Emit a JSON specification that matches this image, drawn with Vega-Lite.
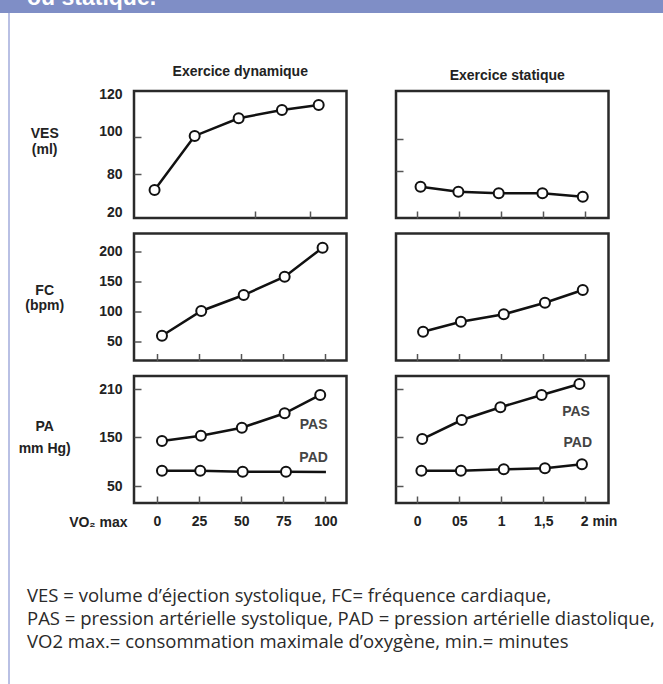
{
  "$schema": "https://vega.github.io/schema/vega-lite/v6.json",
  "background": "white",
  "padding": 0,
  "spacing": 0,
  "config": {
    "font": "Liberation Sans",
    "view": {"stroke": null},
    "axis": {
      "domain": false, "grid": false, "ticks": true, "tickSize": -7, "tickColor": "#555", "tickWidth": 1.5,
      "labelFont": "Liberation Sans", "labelFontSize": 14, "labelFontWeight": "bold", "labelColor": "#222",
      "labelFlush": false, "labelOverlap": false,
      "titleFont": "Liberation Sans", "titleFontSize": 14, "titleFontWeight": "bold", "titleColor": "#222",
      "titleAngle": 0, "titleAlign": "center", "titleBaseline": "alphabetic", "titlePadding": 0
    },
    "axisX": {"labelPadding": 18},
    "axisY": {"labelPadding": 19},
    "title": {"font": "Liberation Sans", "fontSize": 14, "fontWeight": "bold", "color": "#222"}
  },
  "datasets": {
    "none": [],
    "header": [{"t": "ou statique."}],
    "ves_dyn": [{"x": -1.4, "v": 54.7}, {"x": 22.4, "v": 100.5}, {"x": 48.5, "v": 108.7}, {"x": 74.2, "v": 112.6}, {"x": 96.0, "v": 114.9}],
    "ves_stat": [{"x": 0.04, "v": 59.9}, {"x": 0.49, "v": 52.1}, {"x": 0.97, "v": 49.5}, {"x": 1.49, "v": 49.5}, {"x": 1.97, "v": 44.2}],
    "fc_dyn": [{"x": 3.0, "v": 60}, {"x": 26.3, "v": 101.2}, {"x": 51.5, "v": 127.8}, {"x": 75.8, "v": 158.3}, {"x": 98.3, "v": 206.7}],
    "fc_stat": [{"x": 0.07, "v": 66.7}, {"x": 0.52, "v": 83.3}, {"x": 1.03, "v": 95.7}, {"x": 1.52, "v": 115}, {"x": 1.97, "v": 136.2}],
    "pa_dyn": [
      {"s": "PAS", "x": 3.0, "v": 142.4, "m": true}, {"s": "PAS", "x": 26.1, "v": 152, "m": true}, {"s": "PAS", "x": 50.4, "v": 162, "m": true}, {"s": "PAS", "x": 75.8, "v": 180, "m": true}, {"s": "PAS", "x": 96.9, "v": 202.9, "m": true},
      {"s": "PAD", "x": 3.0, "v": 81.4, "m": true}, {"s": "PAD", "x": 25.7, "v": 81.4, "m": true}, {"s": "PAD", "x": 50.9, "v": 79.4, "m": true}, {"s": "PAD", "x": 76.6, "v": 79.4, "m": true}, {"s": "PAD", "x": 100.3, "v": 78.7, "m": false}
    ],
    "pa_stat": [
      {"s": "PAS", "x": 0.06, "v": 146.5, "m": true}, {"s": "PAS", "x": 0.53, "v": 171.6, "m": true}, {"s": "PAS", "x": 0.99, "v": 187.5, "m": true}, {"s": "PAS", "x": 1.48, "v": 202.9, "m": true}, {"s": "PAS", "x": 1.93, "v": 216.6, "m": true},
      {"s": "PAD", "x": 0.05, "v": 81.4, "m": true}, {"s": "PAD", "x": 0.52, "v": 81.4, "m": true}, {"s": "PAD", "x": 1.03, "v": 84.3, "m": true}, {"s": "PAD", "x": 1.52, "v": 86.3, "m": true}, {"s": "PAD", "x": 1.96, "v": 94.6, "m": true}
    ],
    "pa_dyn_lab": [{"x": 93, "v": 165.4, "t": "PAS"}, {"x": 93, "v": 106.9, "t": "PAD"}],
    "pa_stat_lab": [{"x": 1.89, "v": 181.2, "t": "PAS"}, {"x": 1.91, "v": 138.9, "t": "PAD"}],
    "caption": [
      {"line": 1, "text": "VES = volume d’éjection systolique, FC= fréquence cardiaque,"},
      {"line": 2, "text": "PAS = pression artérielle systolique, PAD = pression artérielle diastolique,"},
      {"line": 3, "text": "VO2 max.= consommation maximale d’oxygène, min.= minutes"}
    ]
  },
  "vconcat": [
    {
      "width": 663, "height": 13,
      "view": {"fill": "#7f8ec6", "stroke": null},
      "data": {"name": "header"},
      "mark": {"type": "text", "clip": true, "align": "left", "baseline": "alphabetic", "dx": 27, "dy": -8, "color": "white", "fontSize": 23, "fontWeight": "bold"},
      "encoding": {
        "x": {"datum": 0, "type": "quantitative", "scale": {"domain": [0, 1]}, "axis": null},
        "y": {"datum": 0, "type": "quantitative", "scale": {"domain": [0, 1]}, "axis": null},
        "text": {"field": "t"}
      }
    },
    {
      "spacing": 0,
      "hconcat": [
        {"width": 8, "height": 671, "data": {"name": "none"}, "mark": {"type": "point", "opacity": 0}},
        {"width": 2, "height": 671, "view": {"fill": "#b9c0e4", "stroke": null}, "data": {"name": "none"}, "mark": {"type": "point", "opacity": 0}},
        {"width": 6, "height": 671, "data": {"name": "none"}, "mark": {"type": "point", "opacity": 0}},
        {
          "spacing": 0,
          "vconcat": [
            {"width": 1, "height": 50, "data": {"name": "none"}, "mark": {"type": "point", "opacity": 0}},
            {
              "columns": 2,
              "bounds": "flush",
              "spacing": {"row": 15.5, "column": 49},
              "concat": [
                {
                  "width": 212.5, "height": 127,
                  "view": {"stroke": "#2a2a2a", "strokeWidth": 2.5},
                  "title": {"text": "Exercice dynamique", "frame": "group", "anchor": "middle", "offset": -3, "baseline": "alphabetic"},
                  "data": {"name": "ves_dyn"},
                  "encoding": {
                    "x": {"field": "x", "type": "quantitative", "scale": {"domain": [-13.6, 112.5], "nice": false, "zero": false}, "axis": {"values": [58.4, 90.7], "labels": false, "title": null}},
                    "y": {"field": "v", "type": "quantitative", "scale": {"domain": [10.5, 20, 80, 100, 120, 121.4], "range": [127, 121, 83, 46, 3, 0], "nice": false, "zero": false},
                          "axis": {"values": [20, 80, 100, 120], "tickOpacity": {"condition": {"test": "datum.value == 80 || datum.value == 100", "value": 1}, "value": 0},
                                   "labelOffset": {"condition": {"test": "datum.value == 100", "value": -6}, "value": 0},
                                   "title": ["VES", "(ml)"], "titleAngle": 0, "titleAlign": "center", "titleBaseline": "alphabetic", "titleX": -89.8, "titleY": 46, "titleLineHeight": 16}}
                  },
                  "layer": [
                    {"mark": {"type": "line", "color": "#111", "strokeWidth": 2.5}},
                    {"mark": {"type": "point", "shape": "circle", "filled": true, "fill": "white", "stroke": "#111", "strokeWidth": 2, "size": 100, "opacity": 1}}
                  ]
                },
                {
                  "width": 212.5, "height": 127,
                  "view": {"stroke": "#2a2a2a", "strokeWidth": 2.5},
                  "title": {"text": "Exercice statique", "frame": "group", "anchor": "middle", "offset": -3, "baseline": "alphabetic", "dx": 5},
                  "data": {"name": "ves_stat"},
                  "encoding": {
                    "x": {"field": "x", "type": "quantitative", "scale": {"domain": [-0.252, 2.276], "nice": false, "zero": false}, "axis": {"values": [0, 0.5, 1, 1.5, 2], "labels": false, "title": null}},
                    "y": {"field": "v", "type": "quantitative", "scale": {"domain": [10.5, 20, 80, 100, 120, 121.4], "range": [127, 121, 83, 46, 3, 0], "nice": false, "zero": false},
                          "axis": {"values": [81.6, 98.9], "labels": false, "title": null}}
                  },
                  "layer": [
                    {"mark": {"type": "line", "color": "#111", "strokeWidth": 2.5}},
                    {"mark": {"type": "point", "shape": "circle", "filled": true, "fill": "white", "stroke": "#111", "strokeWidth": 2, "size": 100, "opacity": 1}}
                  ]
                },
                {
                  "width": 212.5, "height": 127,
                  "view": {"stroke": "#2a2a2a", "strokeWidth": 2.5},
                  "data": {"name": "fc_dyn"},
                  "encoding": {
                    "x": {"field": "x", "type": "quantitative", "scale": {"domain": [-13.6, 112.5], "nice": false, "zero": false}, "axis": {"values": [0, 25, 50, 75, 100], "labels": false, "title": null}},
                    "y": {"field": "v", "type": "quantitative", "scale": {"domain": [18.7, 230.3], "nice": false, "zero": false},
                          "axis": {"values": [50, 100, 150, 200], "title": ["FC", "(bpm)"], "titleAngle": 0, "titleAlign": "center", "titleBaseline": "alphabetic", "titleX": -89.8, "titleY": 60.5, "titleLineHeight": 15}}
                  },
                  "layer": [
                    {"mark": {"type": "line", "color": "#111", "strokeWidth": 2.5}},
                    {"mark": {"type": "point", "shape": "circle", "filled": true, "fill": "white", "stroke": "#111", "strokeWidth": 2, "size": 100, "opacity": 1}}
                  ]
                },
                {
                  "width": 212.5, "height": 127,
                  "view": {"stroke": "#2a2a2a", "strokeWidth": 2.5},
                  "data": {"name": "fc_stat"},
                  "encoding": {
                    "x": {"field": "x", "type": "quantitative", "scale": {"domain": [-0.252, 2.276], "nice": false, "zero": false}, "axis": {"values": [0, 0.5, 1, 1.5, 2], "labels": false, "title": null}},
                    "y": {"field": "v", "type": "quantitative", "scale": {"domain": [18.7, 230.3], "nice": false, "zero": false}, "axis": null}
                  },
                  "layer": [
                    {"mark": {"type": "line", "color": "#111", "strokeWidth": 2.5}},
                    {"mark": {"type": "point", "shape": "circle", "filled": true, "fill": "white", "stroke": "#111", "strokeWidth": 2, "size": 100, "opacity": 1}}
                  ]
                },
                {
                  "width": 212.5, "height": 127,
                  "view": {"stroke": "#2a2a2a", "strokeWidth": 2.5},
                  "layer": [
                    {
                      "data": {"name": "pa_dyn"},
                      "mark": {"type": "line", "color": "#111", "strokeWidth": 2.5},
                      "encoding": {
                        "x": {"field": "x", "type": "quantitative", "scale": {"domain": [-13.6, 112.5], "nice": false, "zero": false},
                              "axis": {"values": [0, 25, 50, 75, 100], "title": "VO₂ max", "titleAlign": "right", "titleBaseline": "alphabetic", "titleX": -7, "titleY": 23}},
                        "y": {"field": "v", "type": "quantitative", "scale": {"domain": [15, 50, 150, 210, 226.6], "range": [127, 110, 61.3, 13.3, 0], "nice": false, "zero": false},
                              "axis": {"values": [50, 100, 150, 180, 210], "labelExpr": "datum.value == 100 || datum.value == 180 ? '' : datum.label",
                                       "title": ["PA", "mm Hg)"], "titleAngle": 0, "titleAlign": "center", "titleBaseline": "alphabetic", "titleX": -89.8, "titleY": 54, "titleLineHeight": 22}},
                        "detail": {"field": "s"}
                      }
                    },
                    {
                      "data": {"name": "pa_dyn"},
                      "transform": [{"filter": "datum.m"}],
                      "mark": {"type": "point", "shape": "circle", "filled": true, "fill": "white", "stroke": "#111", "strokeWidth": 2, "size": 100, "opacity": 1},
                      "encoding": {"x": {"field": "x", "type": "quantitative"}, "y": {"field": "v", "type": "quantitative"}}
                    },
                    {
                      "data": {"name": "pa_dyn_lab"},
                      "mark": {"type": "text", "fontSize": 14, "fontWeight": "bold", "color": "#444", "align": "center", "baseline": "middle"},
                      "encoding": {"x": {"field": "x", "type": "quantitative"}, "y": {"field": "v", "type": "quantitative"}, "text": {"field": "t"}}
                    }
                  ]
                },
                {
                  "width": 212.5, "height": 127,
                  "view": {"stroke": "#2a2a2a", "strokeWidth": 2.5},
                  "layer": [
                    {
                      "data": {"name": "pa_stat"},
                      "mark": {"type": "line", "color": "#111", "strokeWidth": 2.5},
                      "encoding": {
                        "x": {"field": "x", "type": "quantitative", "scale": {"domain": [-0.252, 2.276], "nice": false, "zero": false},
                              "axis": {"values": [0, 0.5, 1, 1.5, 2], "title": null,
                                       "labelExpr": "datum.value == 0 ? '0' : datum.value == 0.5 ? '05' : datum.value == 1 ? '1' : datum.value == 1.5 ? '1,5' : '2 min'",
                                       "labelAlign": {"condition": {"test": "datum.value == 2", "value": "left"}, "value": "center"},
                                       "labelOffset": {"condition": {"test": "datum.value == 2", "value": -5}, "value": 0}}},
                        "y": {"field": "v", "type": "quantitative", "scale": {"domain": [15, 50, 150, 210, 226.6], "range": [127, 110, 61.3, 13.3, 0], "nice": false, "zero": false},
                              "axis": {"values": [50, 100, 150, 180, 210], "labels": false, "title": null}},
                        "detail": {"field": "s"}
                      }
                    },
                    {
                      "data": {"name": "pa_stat"},
                      "transform": [{"filter": "datum.m"}],
                      "mark": {"type": "point", "shape": "circle", "filled": true, "fill": "white", "stroke": "#111", "strokeWidth": 2, "size": 100, "opacity": 1},
                      "encoding": {"x": {"field": "x", "type": "quantitative"}, "y": {"field": "v", "type": "quantitative"}}
                    },
                    {
                      "data": {"name": "pa_stat_lab"},
                      "mark": {"type": "text", "fontSize": 14, "fontWeight": "bold", "color": "#444", "align": "center", "baseline": "middle"},
                      "encoding": {"x": {"field": "x", "type": "quantitative"}, "y": {"field": "v", "type": "quantitative"}, "text": {"field": "t"}}
                    }
                  ]
                }
              ]
            },
            {"width": 1, "height": 56, "data": {"name": "none"}, "mark": {"type": "point", "opacity": 0}},
            {
              "width": 500, "height": 46,
              "data": {"name": "caption"},
              "mark": {"type": "text", "align": "left", "baseline": "middle", "font": "Open Sans", "fontSize": 18.5, "color": "#2a2a2a", "dx": -107},
              "encoding": {
                "x": {"datum": 0, "type": "quantitative", "scale": {"domain": [0, 1]}, "axis": null},
                "y": {"field": "line", "type": "ordinal", "axis": null, "scale": {"type": "point", "padding": 0}},
                "text": {"field": "text"}
              }
            }
          ]
        }
      ]
    }
  ]
}
